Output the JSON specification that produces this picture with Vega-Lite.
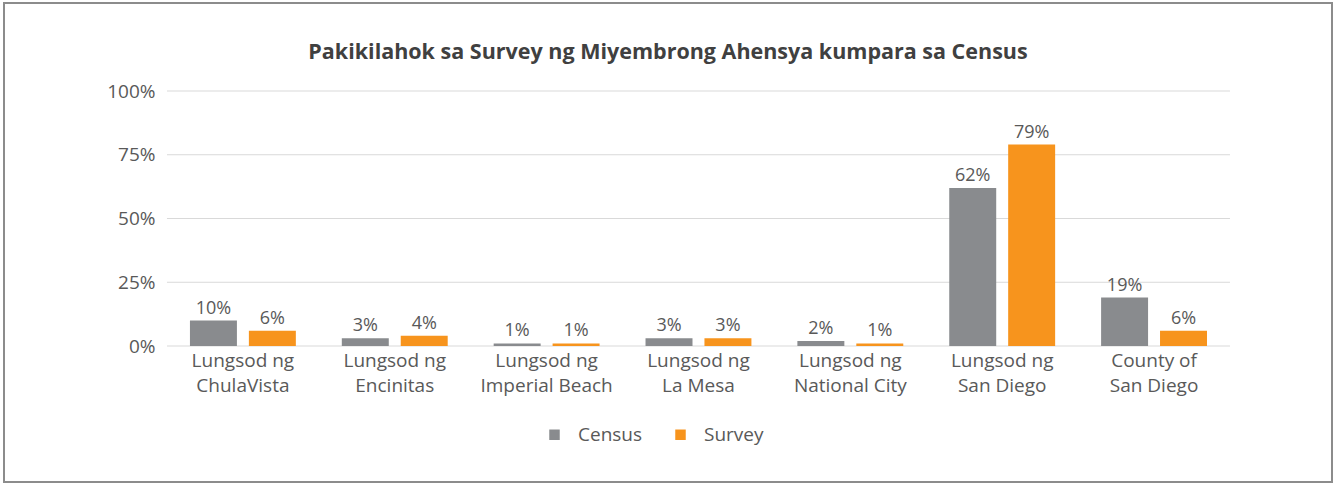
{
  "$schema": "https://vega.github.io/schema/vega-lite/v6.json",
  "autosize": {"type": "none"},
  "width": 1328,
  "height": 479,
  "padding": {"left": 4, "top": 3, "right": 1, "bottom": 1},
  "background": "white",
  "config": {"view": {"stroke": "#8c8c8c", "strokeWidth": 2}},
  "title": {
    "text": "Pakikilahok sa Survey ng Miyembrong Ahensya kumpara sa Census",
    "fontSize": 21.5,
    "fontWeight": "bold",
    "font": "Open Sans",
    "color": "#404040",
    "frame": "group",
    "anchor": "middle",
    "offset": -60
  },
  "datasets": {
    "bars": [
      {"place": "Lungsod ng ChulaVista", "series": "Census", "value": 10},
      {"place": "Lungsod ng ChulaVista", "series": "Survey", "value": 6},
      {"place": "Lungsod ng Encinitas", "series": "Census", "value": 3},
      {"place": "Lungsod ng Encinitas", "series": "Survey", "value": 4},
      {"place": "Lungsod ng Imperial Beach", "series": "Census", "value": 1},
      {"place": "Lungsod ng Imperial Beach", "series": "Survey", "value": 1},
      {"place": "Lungsod ng La Mesa", "series": "Census", "value": 3},
      {"place": "Lungsod ng La Mesa", "series": "Survey", "value": 3},
      {"place": "Lungsod ng National City", "series": "Census", "value": 2},
      {"place": "Lungsod ng National City", "series": "Survey", "value": 1},
      {"place": "Lungsod ng San Diego", "series": "Census", "value": 62},
      {"place": "Lungsod ng San Diego", "series": "Survey", "value": 79},
      {"place": "County of San Diego", "series": "Census", "value": 19},
      {"place": "County of San Diego", "series": "Survey", "value": 6}
    ],
    "grid": [
      {"gy": 0, "from": "Lungsod ng ChulaVista", "to": "County of San Diego"},
      {"gy": 25, "from": "Lungsod ng ChulaVista", "to": "County of San Diego"},
      {"gy": 50, "from": "Lungsod ng ChulaVista", "to": "County of San Diego"},
      {"gy": 75, "from": "Lungsod ng ChulaVista", "to": "County of San Diego"},
      {"gy": 100, "from": "Lungsod ng ChulaVista", "to": "County of San Diego"}
    ]
  },
  "layer": [
    {
      "data": {"name": "grid"},
      "mark": {"type": "rule", "color": "#d9d9d9", "strokeWidth": 1},
      "encoding": {
        "x": {"field": "from", "type": "nominal", "bandPosition": 0, "axis": {"bandPosition": 0.5, "labelAlign": "center"}},
        "x2": {"field": "to", "bandPosition": 1},
        "y": {"field": "gy", "type": "quantitative"}
      }
    },
    {
      "data": {"name": "bars"},
      "mark": {"type": "bar"},
      "encoding": {
        "x": {
          "field": "place",
          "type": "nominal",
          "sort": null,
          "scale": {
            "domain": ["Lungsod ng ChulaVista", "Lungsod ng Encinitas", "Lungsod ng Imperial Beach", "Lungsod ng La Mesa", "Lungsod ng National City", "Lungsod ng San Diego", "County of San Diego"],
            "paddingInner": 0,
            "paddingOuter": 0.8725,
            "align": 0.615
          },
          "axis": {
            "title": null,
            "bandPosition": 0.5,
            "labelAlign": "center",
            "labelAngle": 0,
            "domain": false,
            "ticks": false,
            "grid": false,
            "offset": -136,
            "labelPadding": 5,
            "labelFontSize": 19,
            "labelFont": "Open Sans",
            "labelColor": "#595959",
            "labelLineHeight": 25,
            "labelBaseline": "top",
            "labelExpr": "[join(slice(split(datum.label, ' '), 0, 2), ' '), join(slice(split(datum.label, ' '), 2), ' ')]"
          }
        },
        "xOffset": {
          "field": "series",
          "type": "nominal",
          "scale": {"paddingInner": 0.203, "paddingOuter": 0.39}
        },
        "y": {
          "field": "value",
          "type": "quantitative",
          "scale": {"domain": [-53.33, 134.51], "nice": false, "zero": false},
          "axis": {
            "title": null,
            "values": [0, 25, 50, 75, 100],
            "labelExpr": "datum.value + '%'",
            "domain": false,
            "ticks": false,
            "grid": false,
            "offset": -151,
            "labelPadding": 0,
            "labelFontSize": 19,
            "labelFont": "Open Sans",
            "labelColor": "#595959"
          }
        },
        "color": {
          "field": "series",
          "type": "nominal",
          "scale": {"domain": ["Census", "Survey"], "range": ["#898b8e", "#f7941d"]},
          "legend": {
            "title": null,
            "orient": "none",
            "direction": "horizontal",
            "legendX": 541,
            "legendY": 422,
            "symbolType": "square",
            "symbolSize": 110,
            "symbolStrokeWidth": 0,
            "labelFontSize": 19,
            "labelFont": "Open Sans",
            "labelColor": "#595959",
            "labelOffset": 14,
            "columnPadding": 28
          }
        }
      }
    },
    {
      "data": {"name": "bars"},
      "transform": [{"calculate": "datum.value + '%'", "as": "label"}],
      "mark": {"type": "text", "baseline": "bottom", "dy": -3, "fontSize": 18, "font": "Open Sans", "color": "#595959"},
      "encoding": {
        "x": {"field": "place", "type": "nominal", "sort": null},
        "xOffset": {"field": "series", "type": "nominal"},
        "y": {"field": "value", "type": "quantitative"},
        "text": {"field": "label", "type": "nominal"}
      }
    }
  ]
}
